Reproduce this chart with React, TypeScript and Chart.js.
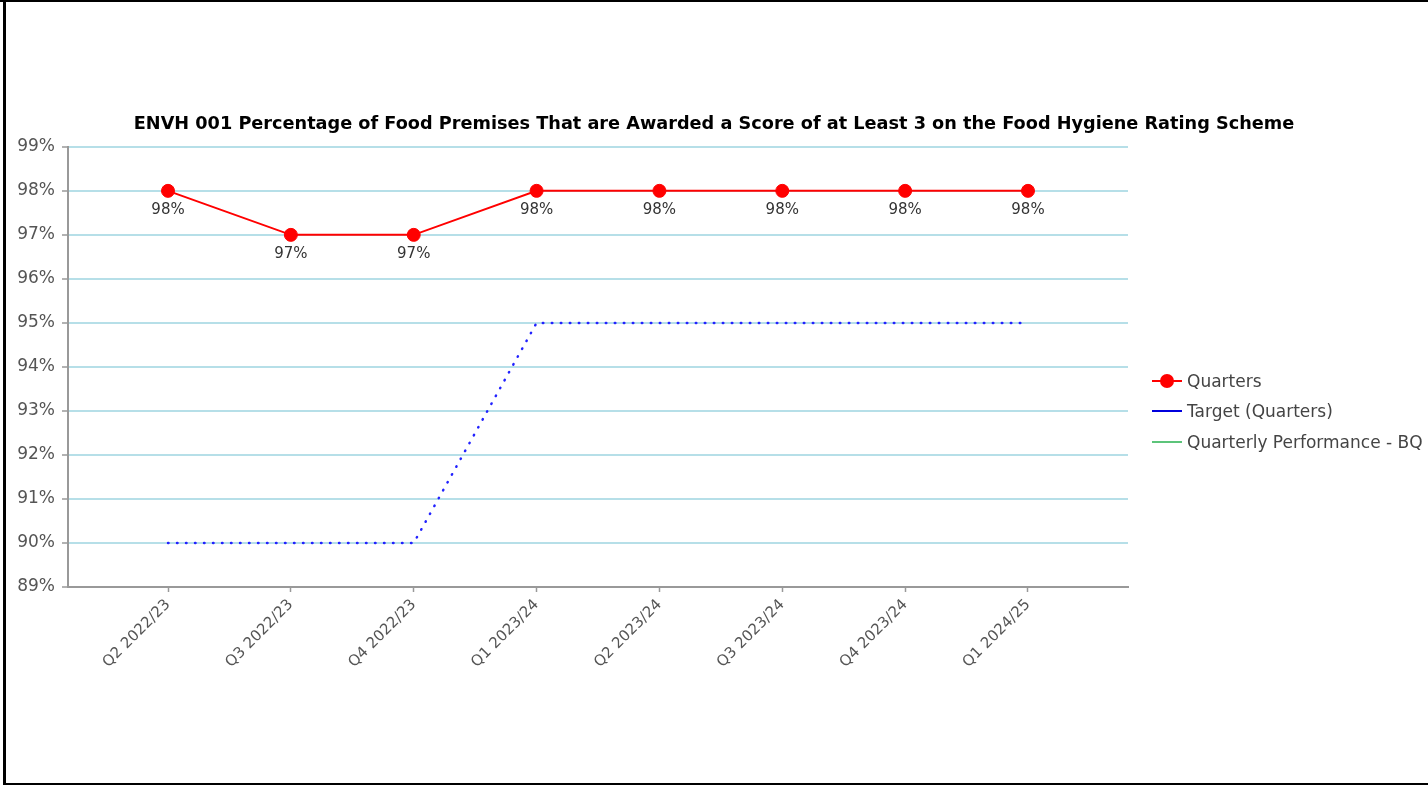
import React, { useEffect, useRef } from 'react';
import { Chart, registerables } from 'chart.js';

Chart.register(...registerables);

const chartTitle =
  'ENVH 001 Percentage of Food Premises That are Awarded a Score of at Least 3 on the Food Hygiene Rating Scheme';
const quarterLabels = [
  'Q2 2022/23',
  'Q3 2022/23',
  'Q4 2022/23',
  'Q1 2023/24',
  'Q2 2023/24',
  'Q3 2023/24',
  'Q4 2023/24',
  'Q1 2024/25',
];
const quartersValues = [98, 97, 97, 98, 98, 98, 98, 98];
const targetValues = [90, 90, 90, 95, 95, 95, 95, 95];
const bqValues: number[] = [];
const seriesNames = ['Quarters', 'Target (Quarters)', 'Quarterly Performance - BQ'];
const seriesColors = ['#ff0000', '#0000dd', '#5cc47a'];
const yMin = 89;
const yMax = 99;

const FONT = '"DejaVu Sans", Verdana, sans-serif';

const dataLabelPlugin = {
  id: 'dataLabels',
  afterDatasetsDraw(chart: any) {
    const ctx = chart.ctx;
    const meta = chart.getDatasetMeta(0);
    ctx.save();
    ctx.font = '15px ' + FONT;
    ctx.fillStyle = '#333333';
    ctx.textAlign = 'center';
    ctx.textBaseline = 'middle';
    meta.data.forEach((pt: any, i: number) => {
      ctx.fillText(quartersValues[i] + '%', pt.x, pt.y + 19);
    });
    ctx.restore();
  },
};

export default function App() {
  const canvasRef = useRef<HTMLCanvasElement | null>(null);

  useEffect(() => {
    const canvas = canvasRef.current;
    if (!canvas) return;
    const toPoints = (vals: number[]) => vals.map((v, i) => ({ x: i, y: v }));
    const chart = new Chart(canvas, {
      type: 'line',
      data: {
        datasets: [
          {
            label: seriesNames[0],
            data: toPoints(quartersValues),
            borderColor: seriesColors[0],
            backgroundColor: seriesColors[0],
            borderWidth: 2,
            pointRadius: 6.5,
            pointBorderWidth: 1,
            pointBackgroundColor: seriesColors[0],
            pointBorderColor: seriesColors[0],
            tension: 0,
            order: 0,
          },
          {
            label: seriesNames[1],
            data: toPoints(targetValues),
            borderColor: '#2222ff',
            borderWidth: 2.5,
            borderDash: [0.5, 8.5],
            borderCapStyle: 'round',
            pointRadius: 0,
            tension: 0,
            order: 1,
          },
          {
            label: seriesNames[2],
            data: toPoints(bqValues),
            borderColor: seriesColors[2],
            borderWidth: 2,
            pointRadius: 0,
            order: 2,
          },
        ],
      },
      options: {
        responsive: false,
        animation: false,
        devicePixelRatio: 1,
        layout: { padding: { left: 0, right: 0, top: 0, bottom: 0 } },
        plugins: {
          legend: { display: false },
          tooltip: { enabled: false },
          title: {
            display: true,
            text: chartTitle,
            color: '#000000',
            font: { family: FONT, size: 17.7, weight: 'bold', lineHeight: 1.2 },
            padding: { top: 114, bottom: 11.6 },
          },
        },
        scales: {
          x: {
            type: 'linear',
            min: -0.814,
            max: quarterLabels.length - 1 + 0.814,
            afterBuildTicks: (scale: any) => {
              scale.ticks = quarterLabels.map((_, i) => ({ value: i }));
            },
            afterFit: (scale: any) => {
              scale.height = 198;
            },
            ticks: {
              autoSkip: false,
              minRotation: 45,
              maxRotation: 45,
              padding: 4,
              color: '#555555',
              font: { family: FONT, size: 15 },
              callback: (v: any) => quarterLabels[v as number] ?? '',
            },
            grid: {
              drawOnChartArea: false,
              drawTicks: true,
              tickLength: 5,
              tickColor: '#999999',
              tickWidth: 1.5,
            },
            border: { display: true, color: '#999999', width: 2 },
          },
          y: {
            min: yMin,
            max: yMax,
            afterFit: (scale: any) => {
              scale.width = 68;
            },
            ticks: {
              stepSize: 1,
              padding: 7,
              color: '#555555',
              font: { family: FONT, size: 17 },
              callback: (v: any) => v + '%',
            },
            grid: {
              color: '#b6dfe8',
              lineWidth: 2,
              tickColor: '#999999',
              tickWidth: 1.5,
              tickLength: 6,
            },
            border: { display: true, color: '#999999', width: 2 },
          },
          spacer: {
            type: 'linear',
            position: 'right',
            display: true,
            afterFit: (scale: any) => {
              scale.width = 300;
            },
            ticks: { display: false },
            grid: { display: false },
            border: { display: false },
          },
        },
      },
      plugins: [dataLabelPlugin],
    } as any);
    return () => chart.destroy();
  }, []);

  const legendCenters = [381, 411, 442];

  return (
    <div
      style={{
        position: 'absolute',
        left: 0,
        top: 0,
        width: 1428,
        height: 785,
        overflow: 'hidden',
        background: '#ffffff',
      }}
    >
      <canvas
        ref={canvasRef}
        width={1428}
        height={785}
        style={{ position: 'absolute', left: 0, top: 0, width: 1428, height: 785 }}
      />
      {seriesNames.map((name, i) => (
        <div
          key={name}
          style={{
            position: 'absolute',
            left: 1152,
            top: legendCenters[i] - 11,
            height: 22,
            display: 'flex',
            alignItems: 'center',
            whiteSpace: 'nowrap',
          }}
        >
          <div style={{ position: 'relative', width: 30, height: 22 }}>
            <div
              style={{
                position: 'absolute',
                left: 0,
                top: 10,
                width: 30,
                height: 2,
                background: seriesColors[i],
              }}
            />
            {i === 0 && (
              <div
                style={{
                  position: 'absolute',
                  left: 8,
                  top: 4,
                  width: 14,
                  height: 14,
                  borderRadius: 7,
                  background: seriesColors[0],
                }}
              />
            )}
          </div>
          <span
            style={{
              marginLeft: 5,
              fontFamily: FONT,
              fontSize: 17,
              color: '#444444',
              lineHeight: '22px',
            }}
          >
            {name}
          </span>
        </div>
      ))}
      <div style={{ position: 'absolute', left: 0, top: 0, width: 1428, height: 2, background: '#000' }} />
      <div style={{ position: 'absolute', left: 3, top: 0, width: 3, height: 785, background: '#000' }} />
      <div style={{ position: 'absolute', left: 3, top: 783, width: 1425, height: 2, background: '#000' }} />
    </div>
  );
}
